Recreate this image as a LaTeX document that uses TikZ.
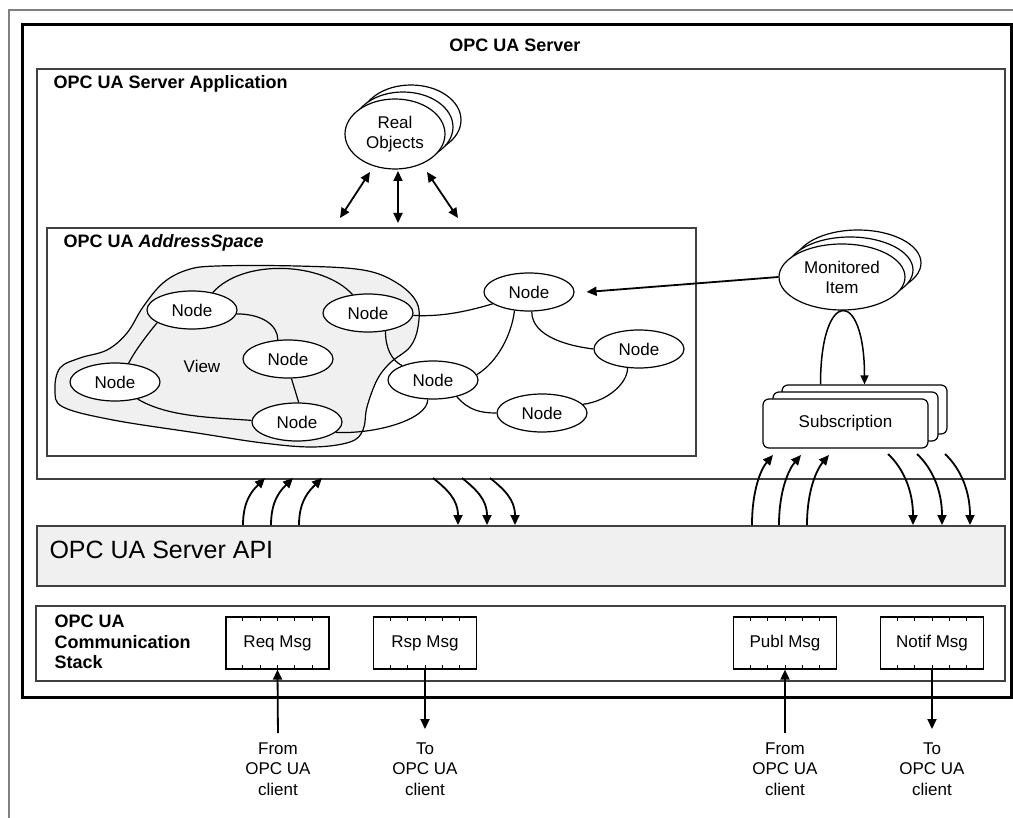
\documentclass[tikz,border=0pt]{standalone}
\usepackage{fontspec}
\setmainfont{Liberation Sans}
\usetikzlibrary{arrows.meta,shapes.geometric,calc}
\begin{document}
\begin{tikzpicture}[x=1pt,y=-1pt,
  txt/.style={font=\fontsize{17}{20.5}\selectfont},
  bld/.style={font=\bfseries\fontsize{18}{20.5}\selectfont},
  nd/.style={ellipse,draw,fill=white,line width=1.2pt,minimum width=90pt,minimum height=38pt,inner sep=0pt,font=\fontsize{17}{20}\selectfont},
  stackell/.style={ellipse,draw,fill=white,line width=1.2pt,inner sep=0pt,align=center,font=\fontsize{17}{20}\selectfont},
  edge/.style={line width=1.2pt},
  arr/.style={line width=1.8pt,-{Triangle[length=10pt,width=9pt]}},
  darr/.style={line width=1.8pt,{Triangle[length=10pt,width=9pt]}-{Triangle[length=10pt,width=9pt]}},
  box/.style={draw=black!75,line width=1.6pt,inner sep=0pt,anchor=north west},
  msg/.style={draw,line width=1.2pt,minimum width=103pt,minimum height=52pt,inner sep=0pt,font=\fontsize{17}{20}\selectfont},
  subbox/.style={draw,fill=white,rounded corners=6pt,line width=1.2pt,minimum width=165pt,minimum height=49pt,inner sep=0pt,font=\fontsize{17}{20}\selectfont},
]
\useasboundingbox (0,0) rectangle (1013,818);
\fill[white] (0,0) rectangle (1013,818);

% outer frames
\draw[gray,line width=1.5pt] (9,818) -- (9,10) -- (1013,10);
\node[draw,line width=3pt,minimum width=989pt,minimum height=673pt,inner sep=0pt,anchor=north west] (server) at (21,23) {};
\node[bld] (servert) at (515,45) {OPC UA Server};

% application box
\node[box,minimum width=968pt,minimum height=410pt] (app) at (36,68) {};
\node[bld,anchor=west] (appt) at (50,84) {OPC UA Server Application};

% real objects
\node[stackell,minimum width=100pt,minimum height=70pt] (ro3) at (411,120) {};
\node[stackell,minimum width=100pt,minimum height=70pt] (ro2) at (403,127) {};
\node[stackell,minimum width=100pt,minimum height=70pt] (ro) at (395,134) {Real\\Objects};

% address space box
\node[box,minimum width=649pt,minimum height=228pt] (as) at (46,227) {};
\node[bld,anchor=west] (ast) at (60,243) {OPC UA \textit{AddressSpace}};

\coordinate (ra1) at (370,172); \coordinate (rb1) at (340,218);
\coordinate (ra2) at (398,171); \coordinate (rb2) at (398,223);
\coordinate (ra3) at (427,172); \coordinate (rb3) at (458,218);
\draw[darr] (ra1) -- (rb1);
\draw[darr] (ra2) -- (rb2);
\draw[darr] (ra3) -- (rb3);

% view blob
\draw[line width=1.2pt,fill=gray!12] plot[smooth cycle,tension=0.6] coordinates{
 (217,266) (297,266) (363,270) (397,283) (417,303) (418,327) (410,347) (390,363)
 (377,380) (367,407) (363,430) (350,442) (313,447) (263,443) (197,433) (113,420)
 (63,407) (55,390) (60,368) (80,358) (107,350) (127,333) (143,307) (163,283) (187,270)};
\node[txt] (view) at (202,366) {View};

% nodes
\node[nd] (n1) at (192,310) {Node};
\node[nd] (n2) at (368,313) {Node};
\node[nd] (n3) at (115,382) {Node};
\node[nd] (n4) at (288,359) {Node};
\node[nd] (n5) at (297,422) {Node};
\node[nd] (n6) at (529,292) {Node};
\node[nd] (n7) at (639,349) {Node};
\node[nd] (n8) at (433,380) {Node};
\node[nd] (n9) at (542,413) {Node};

% edges
\draw[edge] (n1.40) .. controls +(30,-34) and +(-30,-33) .. (n2.130);
\draw[edge] (n1.-5) .. controls +(25,0) and +(0,-15) .. (n4.118);
\draw[edge] (n1.200) .. controls +(-10,12) and +(6,-12) .. (n3.54);
\draw[edge] (n3.-37) .. controls +(30,18) and +(-40,-3) .. (n5.178);
\draw[edge] (n4.-80) -- (n5.85);
\draw[edge] (n2.-3) .. controls +(30,2) and +(-20,6) .. (n6.198);
\draw[edge] (n2.-46) .. controls +(0,18) and +(-10,-5) .. (n8.155);
\draw[edge] (n5.-15) .. controls +(40,2) and +(0,20) .. (n8.-105);
\draw[edge] (n6.232) .. controls +(-3,25) and +(20,-12) .. (n8.7);
\draw[edge] (n6.-82) .. controls +(0,25) and +(-25,-3) .. (n7.180);
\draw[edge] (n8.-35) .. controls +(12,14) and +(-15,0) .. (n9.180);
\draw[edge] (n9.12) .. controls +(25,-3) and +(0,15) .. (n7.239);

% monitored item
\node[stackell,minimum width=126pt,minimum height=66pt] (mon3) at (858,263) {};
\node[stackell,minimum width=126pt,minimum height=66pt] (mon2) at (850,270) {};
\node[stackell,minimum width=126pt,minimum height=66pt] (mon) at (842,277) {Monitored\\Item};
\draw[arr] (mon.west) -- ([xshift=12pt]n6.east);

% subscription
\node[subbox] (sub3) at (864.5,409.5) {};
\node[subbox] (sub2) at (855.5,416.5) {};
\node[subbox] (sub) at (845.5,423.5) {Subscription};
\draw[line width=1.5pt,-{Triangle[length=9pt,width=8pt]}] ($(sub3.north)+(-44,0)$) .. controls +(0,-97) and +(0,-97) .. (sub3.north);

% API box
\node[box,fill=gray!12,minimum width=968pt,minimum height=60pt] (api) at (36,525) {};
\node[anchor=west,font=\fontsize{25}{28}\selectfont] (apit) at (46,550) {OPC UA Server API};

% arrows between app and API
\foreach \s/\e in {243/265,271/293,299/322}
  \draw[arr] (\s,525) .. controls +(0,-25) and +(-12,12) .. (\e,478);
\foreach \s/\e in {433/458,462/487,490/515}
  \draw[arr] (\s,478) .. controls +(15,12) and +(0,-25) .. (\e,525);
\foreach \s/\e in {752/773,779/801,807/829}
  \draw[arr] (\s,525) .. controls +(0,-35) and +(-12,14) .. (\e,455);
\foreach \s/\e in {888/913,917/942,945/970}
  \draw[arr] (\s,454) .. controls +(15,14) and +(0,-35) .. (\e,525);

% communication stack
\node[box,minimum width=969pt,minimum height=75pt] (cs) at (35,605) {};
\node[bld,anchor=west,align=left] (cst) at (51,642) {OPC UA\\Communication\\Stack};

\node[msg] (req) at (277.5,643) {Req Msg};
\node[msg] (rsp) at (425,643) {Rsp Msg};
\node[msg] (pub) at (785,643) {Publ Msg};
\node[msg] (not) at (932,643) {Notif Msg};
\foreach \b in {req,rsp,pub,not}{
  \foreach \i in {1,...,5}{
    \draw[line width=0.8pt] ($(\b.north west)!\i/6!(\b.north east)$) -- ++(0,5);
    \draw[line width=0.8pt] ($(\b.south west)!\i/6!(\b.south east)$) -- ++(0,-5);
  }
}

% client labels
\node[txt,align=center] (l1) at (278,769) {From\\OPC UA\\client};
\node[txt,align=center] (l2) at (425,769) {To\\OPC UA\\client};
\node[txt,align=center] (l3) at (785,769) {From\\OPC UA\\client};
\node[txt,align=center] (l4) at (932,769) {To\\OPC UA\\client};
\draw[arr,shorten <=6pt] (l1.north) -- (req.south);
\draw[arr,shorten >=10pt] (rsp.south) -- (l2.north);
\draw[arr,shorten <=6pt] (l3.north) -- (pub.south);
\draw[arr,shorten >=10pt] (not.south) -- (l4.north);
\end{tikzpicture}
\end{document}
